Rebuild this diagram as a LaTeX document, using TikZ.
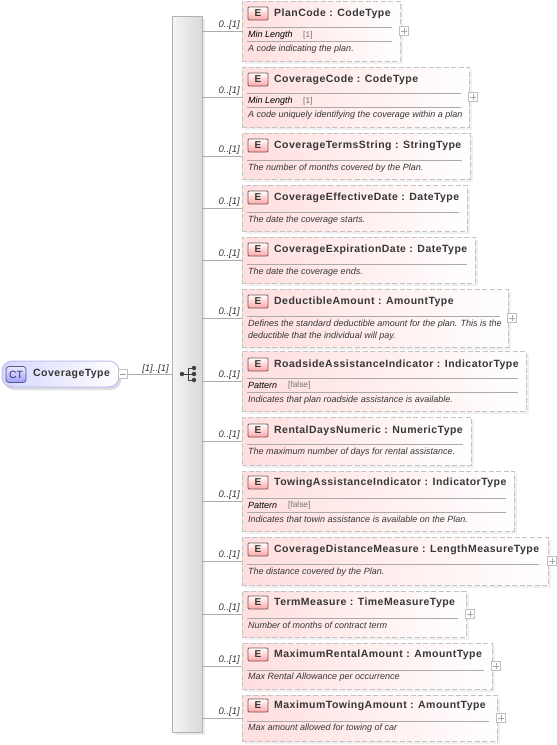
\documentclass[tikz,border=0pt]{standalone}
\usepackage{fontspec}
\setmainfont{Liberation Sans}
\newfontfamily\ttlfont[LetterSpace=4.5]{Liberation Sans}
\definecolor{elpink}{RGB}{255,222,222}
\definecolor{eldash}{RGB}{195,195,195}
\definecolor{rule}{RGB}{170,170,170}
\definecolor{ink}{RGB}{55,55,55}
\definecolor{badgeline}{RGB}{120,85,85}
\tikzset{
  elbox/.style={draw=eldash,line width=1pt,left color=elpink,right color=white,anchor=north west,inner sep=0pt,outer sep=0pt,dash pattern=on 5pt off 2.5pt},
  ebadge/.style={draw=badgeline,line width=.8pt,rounded corners=1pt,top color=white,bottom color=red!35,text=ink,font=\bfseries\fontsize{10}{10}\selectfont,minimum width=20pt,minimum height=13pt,inner sep=0pt,yshift=-.5pt},
  ttl/.style={anchor=west,inner sep=0pt,text=ink,yshift=-.8pt,font=\ttlfont\bfseries\fontsize{10.5}{12}\selectfont},
  desc/.style={anchor=west,inner sep=0pt,text=ink,yshift=-.6pt,font=\itshape\fontsize{9}{12}\selectfont},
  facet/.style={anchor=west,inner sep=0pt,text=black,yshift=-.6pt,font=\itshape\fontsize{9}{10}\selectfont},
  facetval/.style={anchor=west,inner sep=0pt,text=black!55,yshift=-.6pt,font=\fontsize{8.3}{10}\selectfont},
  card/.style={inner sep=0pt,text=ink,font=\itshape\fontsize{9.5}{10}\selectfont},
  toggle/.style={draw=black!25,fill=white,minimum size=9pt,inner sep=0pt,line width=.7pt},
  link/.style={draw=black!33,line width=.9pt},
  sep/.style={draw=rule,line width=1pt},
  dot/.style={circle,fill=black!75,minimum size=4.5pt,inner sep=0pt}
}
% id, right, top, bottom, title, y of title
\newcommand{\elem}[6]{%
  \fill[black!6] (245,#3+3) rectangle (#2+2.5,#4+2.5);
  \node[elbox,minimum width=#2pt-242pt,minimum height=#4pt-#3pt] (#1) at (242,#3) {};
  \node[ebadge] (#1e) at (258,#6) {E};
  \node[ttl] (#1t) at (274,#6) {#5};
  \draw[link] (seq.east |- #1.west) -- (#1.west);
  \node[card,anchor=south east] (#1c) at ([xshift=-2pt,yshift=1.6pt]#1.west) {0..[1]};
}
\newcommand{\plusbox}[1]{%
  \node[toggle,xshift=4pt] (#1p) at (#1.east) {};
  \draw[black!35,line width=.5pt] ([xshift=-2.6pt]#1p.center) -- ([xshift=2.6pt]#1p.center) ([yshift=-2.6pt]#1p.center) -- ([yshift=2.6pt]#1p.center);
}
\newcommand{\hsep}[3]{\draw[sep] (247,#2) -- (#1,#2) ;}
\begin{document}
\begin{tikzpicture}[x=1pt,y=-1pt]
\useasboundingbox (0,0) rectangle (557,745);
\fill[white] (0,0) rectangle (557,745);
% sequence bar
\fill[black!8] (174.5,18.5) rectangle (204.5,734.5);
\node[draw=black!30,line width=.9pt,left color=black!4,right color=black!15,minimum width=30pt,minimum height=716pt,inner sep=0pt,outer sep=0pt,anchor=north west] (seq) at (172,16) {};
\node[dot] (sl) at (182,374) {};
\node[dot] (s1) at (194,368) {};
\node[dot] (s2) at (194,374) {};
\node[dot] (s3) at (194,380) {};
\draw[black!75,line width=.9pt] (sl) -- (s2) (s1) -- (188,368) -- (188,380) -- (s3);
% root
\fill[black!13,rounded corners=10pt] (4,364) rectangle (121,390);
\node[draw=black!25!blue!25!white,line width=1pt,rounded corners=10pt,left color=blue!16!white,right color=white,minimum width=117pt,minimum height=26pt,inner sep=0pt,outer sep=0pt,anchor=north west] (root) at (2,361) {};
\node[draw=blue!25!black!65,line width=.8pt,rounded corners=3pt,top color=blue!8!white,bottom color=blue!38!white,text=blue!25!black!80,minimum width=20pt,minimum height=16pt,inner sep=0pt,font=\fontsize{10.5}{10}\selectfont] (ct) at (16,374.5) {CT};
\node[ttl] (rt) at (33,373) {CoverageType};
\node[toggle] (rm) at (123,374) {};
\draw[black!40,line width=.5pt] ([xshift=-2.6pt]rm.center) -- ([xshift=2.6pt]rm.center);
\draw[link] (rm.east) -- (rm.east -| seq.west);
\node[card,anchor=south] (rc) at (155.5,373.5) {[1]..[1]};
% elements
\elem{a}{400}{1}{61}{PlanCode : CodeType}{13}
\plusbox{a}
\hsep{392}{27}{}\node[facet] (af) at (248,34.5) {Min Length};\node[facetval] (av) at (303,34.5) {[1]};
\hsep{392}{41}{}\node[desc] (ad) at (248,48.5) {A code indicating the plan.};
\elem{b}{469}{67}{127}{CoverageCode : CodeType}{79}
\plusbox{b}
\hsep{461}{93}{}\node[facet] (bf) at (248,100.5) {Min Length};\node[facetval] (bv) at (303,100.5) {[1]};
\hsep{461}{107}{}\node[desc] (bd) at (248,114.5) {A code uniquely identifying the coverage within a plan};
\elem{c}{470}{133}{179}{CoverageTermsString : StringType}{145}
\hsep{462}{160}{}\node[desc] (cd) at (248,168) {The number of months covered by the Plan.};
\elem{d}{467}{185}{231}{CoverageEffectiveDate : DateType}{197}
\hsep{459}{212}{}\node[desc] (dd) at (248,219.5) {The date the coverage starts.};
\elem{e}{475}{237}{283}{CoverageExpirationDate : DateType}{249}
\hsep{467}{264}{}\node[desc] (ed) at (248,271.5) {The date the coverage ends.};
\elem{f}{508}{289}{347}{DeductibleAmount : AmountType}{301}
\plusbox{f}
\hsep{500}{316}{}\node[desc] (fd) at (248,323.5) {Defines the standard deductible amount for the plan. This is the};
\node[desc] (fd2) at (248,335.5) {deductible that the individual will pay.};
\elem{g}{526}{351}{411}{RoadsideAssistanceIndicator : IndicatorType}{364}
\hsep{518}{378}{}\node[facet] (gf) at (248,385) {Pattern};\node[facetval] (gv) at (288,385) {[false]};
\hsep{518}{392}{}\node[desc] (gd) at (248,399.5) {Indicates that plan roadside assistance is available.};
\elem{h}{471}{417}{465}{RentalDaysNumeric : NumericType}{430}
\hsep{463}{444}{}\node[desc] (hd) at (248,452) {The maximum number of days for rental assistance.};
\elem{i}{514}{471}{531}{TowingAssistanceIndicator : IndicatorType}{482}
\hsep{506}{498}{}\node[facet] (if) at (248,505) {Pattern};\node[facetval] (iv) at (288,505) {[false]};
\hsep{506}{512}{}\node[desc] (id) at (248,519) {Indicates that towin assistance is available on the Plan.};
\elem{j}{548}{537}{585}{CoverageDistanceMeasure : LengthMeasureType}{549}
\plusbox{j}
\hsep{539}{564}{}\node[desc] (jd) at (248,571.5) {The distance covered by the Plan.};
\elem{k}{466}{591}{637}{TermMeasure : TimeMeasureType}{602}
\plusbox{k}
\hsep{458}{618}{}\node[desc] (kd) at (248,625) {Number of months of contract term};
\elem{l}{492}{643}{689}{MaximumRentalAmount : AmountType}{654}
\plusbox{l}
\hsep{484}{670}{}\node[desc] (ld) at (248,677) {Max Rental Allowance per occurrence};
\elem{m}{497}{695}{741}{MaximumTowingAmount : AmountType}{705}
\plusbox{m}
\hsep{489}{721}{}\node[desc] (md) at (248,728) {Max amount allowed for towing of car};
\end{tikzpicture}
\end{document}
